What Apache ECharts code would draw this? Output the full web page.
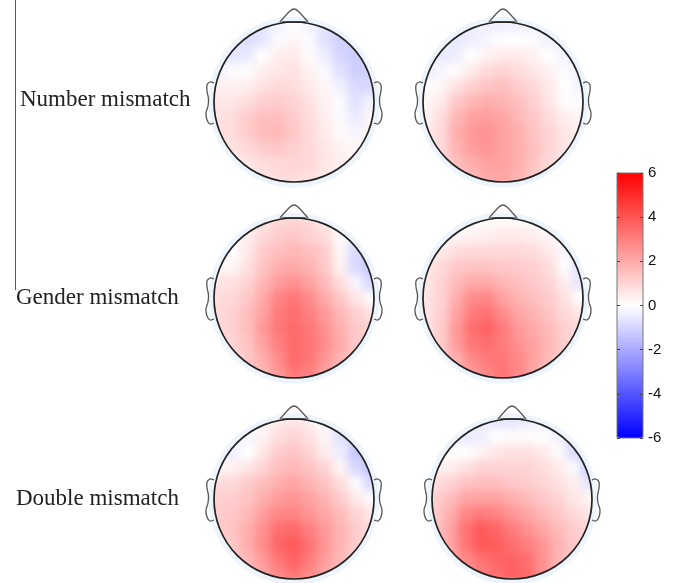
<!DOCTYPE html>
<html lang="en">
<head>
<meta charset="utf-8">
<title>Scalp topographies by mismatch type</title>
<style>
* { margin: 0; padding: 0; }
html, body { width: 675px; height: 583px; background: #fff; overflow: hidden; }
.layer { position: absolute; left: 0; top: 0; width: 675px; height: 583px; }
#heat { filter: blur(4px); }
</style>
</head>
<body>
<div id="heat" class="layer"></div>
<div id="overlay" class="layer"></div>
<script src="https://fastly.jsdelivr.net/npm/echarts@6/dist/echarts.min.js"></script>
<script>
// values, microvolts, rows run front of head to back
const numberLeft = [
  [-0.7,-0.7,-0.7,-0.6,-0.3,0,-0.3,-0.6,-1,-1.1,-1.1],
  [-0.7,-0.7,-0.8,-0.6,-0.1,0.2,-0.1,-0.7,-1.1,-1.2,-1.2],
  [-0.5,-0.6,-0.5,0,0.4,0.5,0.1,-0.4,-1,-1.2,-1.2],
  [-0.3,-0.1,0.1,0.4,0.6,0.7,0.3,-0.1,-0.7,-1.1,-1.1],
  [0.4,0.3,0.4,0.7,0.9,0.8,0.5,0.2,-0.3,-0.9,-0.9],
  [0.6,0.6,0.8,1.1,1.2,1,0.7,0.3,-0.1,-0.7,-0.3],
  [0.7,0.8,1.2,1.5,1.5,1.2,0.8,0.4,-0.1,-0.5,0.2],
  [0.7,0.8,1.2,1.6,1.7,1.3,0.9,0.5,0.1,-0.2,0.3],
  [0.6,0.7,0.9,1.2,1.3,1.1,0.9,0.6,0.3,0.2,0.3],
  [0.5,0.5,0.6,0.8,0.9,1,0.9,0.6,0.4,0.3,0.3],
  [0.4,0.4,0.5,0.6,0.8,0.8,0.7,0.5,0.4,0.3,0.3]
];
const numberRight = [
  [-0.4,-0.4,-0.4,-0.4,-0.4,-0.4,-0.4,-0.3,-0.3,-0.3,-0.3],
  [-0.5,-0.5,-0.5,-0.4,-0.2,0,0,-0.1,-0.3,-0.4,-0.4],
  [-0.5,-0.5,-0.4,0,0.3,0.5,0.5,0.3,0,-0.3,-0.3],
  [-0.4,-0.2,0.1,0.5,0.9,1,0.8,0.6,0.3,-0.1,-0.3],
  [0,0.2,0.7,1.1,1.4,1.5,1.2,0.9,0.5,0,-0.3],
  [0.2,0.5,1.3,1.7,1.9,1.8,1.5,1.1,0.6,0.1,-0.1],
  [0.3,0.8,1.7,2.2,2.3,2.1,1.7,1.3,0.8,0.4,0.2],
  [0.4,0.9,1.9,2.4,2.6,2.2,1.9,1.4,1,0.6,0.4],
  [0.4,0.9,1.8,2.3,2.5,2.2,1.9,1.5,1,0.6,0.5],
  [0.4,0.8,1.5,1.9,2.2,2.2,1.9,1.4,0.9,0.6,0.5],
  [0.4,0.7,1.2,1.6,2,2.1,1.8,1.3,0.9,0.6,0.5]
];
const genderLeft = [
  [0.2,0.2,0.3,0.6,0.9,1,0.9,0.6,0.3,0,0],
  [0.1,0.1,0.4,0.9,1.2,1.3,1.1,0.8,0.1,-0.5,-0.5],
  [0,0,0.5,1.2,1.5,1.7,1.5,1.2,0.2,-0.9,-1.1],
  [0.2,0.2,0.7,1.4,1.9,2,1.8,1.3,0.3,-0.9,-1.3],
  [0.6,0.7,1,1.7,2.3,2.6,2.2,1.6,0.8,-0.2,-1],
  [0.8,0.9,1.3,2,2.9,3.2,2.7,2,1.3,0.6,-0.1],
  [0.9,1.1,1.5,2.2,3.1,3.4,3,2.4,1.7,1.1,0.7],
  [0.9,1.1,1.5,2.4,3.2,3.5,3.2,2.6,1.9,1.3,1],
  [0.8,1,1.4,2.2,3,3.5,3.3,2.7,2,1.3,1],
  [0.7,0.9,1.3,1.9,2.7,3.5,3.2,2.5,1.8,1.2,1],
  [0.7,0.8,1.1,1.6,2.4,3.2,3,2.2,1.6,1.1,1]
];
const genderRight = [
  [0,0,0,0,0.1,0.1,0.1,0.1,0,0,0],
  [0,0.1,0.2,0.3,0.4,0.5,0.5,0.4,0.2,0,-0.1],
  [0.3,0.5,0.8,0.9,0.9,0.9,0.9,0.8,0.5,-0.2,-0.5],
  [0.5,0.9,1.3,1.4,1.4,1.3,1.2,1.1,0.8,0,-0.7],
  [0.6,1,1.6,2,2,1.7,1.5,1.3,1,0.4,-0.6],
  [0.6,1,1.9,2.7,2.8,2.2,1.8,1.5,1.2,0.7,0],
  [0.6,1.1,2.2,3.1,3.3,2.7,2.1,1.8,1.4,0.9,0.6],
  [0.6,1.2,2.4,3.4,3.7,3.1,2.4,2,1.6,1.1,0.8],
  [0.6,1.2,2.3,3.2,3.4,3.1,2.6,2.2,1.7,1.1,0.8],
  [0.6,1.1,1.9,2.7,3.1,3.2,2.8,2.2,1.6,1,0.8],
  [0.6,1,1.6,2.3,2.9,3.3,2.8,2.1,1.4,0.9,0.8]
];
const doubleLeft = [
  [-0.2,-0.2,-0.1,0.1,0.5,0.6,0.4,-0.1,-0.5,-0.5,-0.5],
  [-0.4,-0.4,-0.2,0.3,0.8,1,0.7,0.2,-0.7,-1,-1],
  [-0.4,-0.4,0,0.6,1.2,1.4,1,0.4,-0.4,-1.3,-1.5],
  [0.2,0.3,0.6,1,1.5,1.7,1.4,1,0.2,-0.9,-1.4],
  [0.8,0.9,1.2,1.5,1.9,2.1,1.8,1.4,0.8,-0.1,-0.9],
  [1.1,1.2,1.4,1.9,2.3,2.5,2.2,1.8,1.2,0.5,-0.1],
  [1.2,1.3,1.6,2.3,2.8,2.9,2.5,2.1,1.6,1,0.6],
  [1.2,1.4,1.9,2.6,3.4,3.5,3,2.4,1.8,1.2,0.8],
  [1.1,1.3,1.9,2.7,3.6,3.9,3.3,2.5,1.8,1.2,0.9],
  [1,1.2,1.7,2.4,3.2,3.7,3.1,2.3,1.7,1.1,0.9],
  [1,1.1,1.5,2.1,2.8,3.3,2.8,2.1,1.5,1,0.9]
];
const doubleRight = [
  [-0.3,-0.3,-0.3,-0.4,-0.6,-0.6,-0.4,-0.3,-0.5,-0.6,-0.6],
  [-0.5,-0.5,-0.5,-0.4,0,0.1,0.1,0,-0.3,-1,-1],
  [0,0,0,0.3,0.6,0.7,0.7,0.5,0.1,-0.8,-1.3],
  [0.3,0.4,0.7,1,1,1,1,0.8,0.5,-0.1,-1.2],
  [0.8,1,1.4,1.5,1.5,1.3,1.2,1,0.7,0.4,-0.6],
  [1.1,1.5,2.1,2.2,2.2,1.9,1.6,1.3,1,0.6,0.2],
  [1.2,1.9,2.8,3.1,2.9,2.5,2.1,1.7,1.3,0.9,0.6],
  [1.3,2.1,3.3,3.9,3.6,3.1,2.6,2.1,1.6,1.2,0.9],
  [1.3,2.1,3.2,3.9,3.8,3.4,3,2.5,1.8,1.3,1],
  [1.2,1.9,2.8,3.3,3.6,3.7,3.4,2.6,1.8,1.2,1],
  [1.2,1.7,2.4,3,3.4,3.8,3.5,2.6,1.7,1.2,1]
];
const rowLabels = ['Number mismatch', 'Gender mismatch', 'Double mismatch'];
const scaleMin = -6;
const scaleMax = 6;
const scaleStep = 2;

const maps = [numberLeft, numberRight, genderLeft, genderRight, doubleLeft, doubleRight];
const centers = [[294, 102], [503, 102], [294, 298], [503, 298], [294, 499], [512, 499]];
const R = 80;
const half = 85;
const colours = ['#0000ff', '#ffffff', '#ff0000'];
const cells = numberLeft[0].map((_, i) => i);

// clip the blurred heat layer to the head circles
const heatDom = document.getElementById('heat');
heatDom.style.clipPath = "path('" + centers.map(c =>
  `M${c[0] - R} ${c[1]} A${R} ${R} 0 1 1 ${c[0] + R} ${c[1]} A${R} ${R} 0 1 1 ${c[0] - R} ${c[1]} Z`
).join(' ') + "')";

const heatChart = echarts.init(heatDom, null, { renderer: 'canvas' });
heatChart.setOption({
  animation: false,
  visualMap: { show: false, min: scaleMin, max: scaleMax, inRange: { color: colours } },
  grid: centers.map(c => ({ left: c[0] - half, top: c[1] - half, width: half * 2, height: half * 2 })),
  xAxis: centers.map((c, i) => ({ type: 'category', gridIndex: i, data: cells, show: false })),
  yAxis: centers.map((c, i) => ({ type: 'category', gridIndex: i, data: cells, inverse: true, show: false })),
  series: maps.map((m, i) => ({
    type: 'heatmap',
    xAxisIndex: i,
    yAxisIndex: i,
    progressive: 0,
    data: m.flatMap((row, y) => row.map((v, x) => [x, y, v]))
  }))
});

// head outlines, nose and ears are relative to the centre of each head
const earLeft = [[-80, -19], [-84, -20], [-87, -17], [-87, -11], [-85.5, -3], [-86, 4], [-88, 11], [-87, 18], [-84, 22], [-80, 21]];
const nose = [[-14, -80], [-4, -91], [0, -93], [4, -91], [14, -80]];

function shift(points, c, flip) {
  return points.map(p => [c[0] + (flip ? -p[0] : p[0]), c[1] + p[1]]);
}

const outline = [];
centers.forEach(c => {
  outline.push({ type: 'circle', shape: { cx: c[0], cy: c[1], r: R + 3 }, style: { fill: 'none', stroke: '#eef4fc', lineWidth: 5 } });
  outline.push({ type: 'polyline', shape: { points: shift(nose, c), smooth: 0.3 }, style: { fill: 'none', stroke: '#555', lineWidth: 1.3 } });
  outline.push({ type: 'line', shape: { x1: c[0] - 12, y1: c[1] - 80, x2: c[0] + 12, y2: c[1] - 80 }, style: { stroke: '#444', lineWidth: 1.5 } });
  outline.push({ type: 'polyline', shape: { points: shift(earLeft, c), smooth: 0.3 }, style: { fill: 'none', stroke: '#555', lineWidth: 1.3 } });
  outline.push({ type: 'polyline', shape: { points: shift(earLeft, c, true), smooth: 0.3 }, style: { fill: 'none', stroke: '#555', lineWidth: 1.3 } });
  outline.push({ type: 'circle', shape: { cx: c[0], cy: c[1], r: R }, style: { fill: 'none', stroke: '#222', lineWidth: 1.7 } });
});

const labelPos = [[20, 100], [16, 298], [16, 499]];
rowLabels.forEach((t, i) => {
  outline.push({
    type: 'text',
    x: labelPos[i][0],
    y: labelPos[i][1],
    style: { text: t, fontFamily: 'Liberation Serif', fontSize: 23, fill: '#222', verticalAlign: 'middle' }
  });
});
outline.push({ type: 'line', shape: { x1: 15.5, y1: 0, x2: 15.5, y2: 290 }, style: { stroke: '#555', lineWidth: 1 } });

const overlayChart = echarts.init(document.getElementById('overlay'), null, { renderer: 'canvas' });
const axisCommon = {
  type: 'value',
  min: scaleMin,
  max: scaleMax,
  interval: scaleStep,
  z: 5,
  axisLine: { show: false, onZero: false },
  splitLine: { show: false },
  axisTick: { inside: true, length: 3, lineStyle: { color: '#444' } }
};
overlayChart.setOption({
  animation: false,
  backgroundColor: 'transparent',
  visualMap: {
    type: 'continuous',
    seriesIndex: [],
    min: scaleMin,
    max: scaleMax,
    left: 617,
    top: 173,
    padding: 0,
    itemWidth: 26,
    itemHeight: 265,
    showLabel: false,
    text: null,
    calculable: false,
    hoverLink: false,
    z: 1,
    inRange: { color: colours }
  },
  grid: { left: 617, top: 173, width: 26, height: 265, show: true, z: 5, borderColor: '#777', borderWidth: 1, backgroundColor: 'transparent' },
  xAxis: { type: 'value', show: false, min: 0, max: 1 },
  yAxis: [
    {
      ...axisCommon,
      position: 'right',
      axisLabel: {
        margin: 5,
        fontFamily: 'Liberation Sans',
        fontSize: 15,
        color: '#111',
        showMinLabel: true,
        showMaxLabel: true
      }
    },
    { ...axisCommon, position: 'left', axisLabel: { show: false } }
  ],
  series: [],
  graphic: { elements: outline }
});
</script>
</body>
</html>
